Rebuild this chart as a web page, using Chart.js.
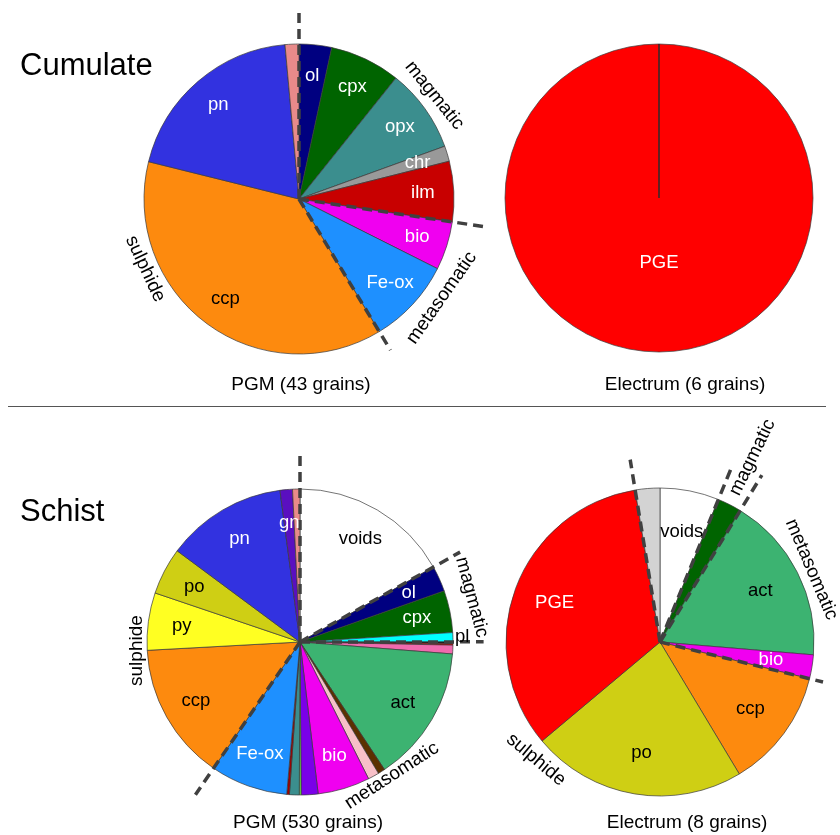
<!DOCTYPE html>
<html lang="en">
<head>
<meta charset="UTF-8">
<title>PGM and Electrum hosts</title>
<script src="https://cdn.jsdelivr.net/npm/chart.js"></script>
<style>
  body { margin: 0; width: 840px; height: 835px; position: relative; overflow: hidden; background: #fff;
         font-family: "Liberation Sans", Arial, sans-serif; }
  .box { position: absolute; width: 480px; height: 480px; }
  .txt { position: absolute; white-space: nowrap; line-height: 1; color: #000; }
  .cap { font-size: 19px; transform: translateX(-50%); }
  .title { font-size: 31px; }
  #rule { position: absolute; left: 8px; top: 406px; width: 818px; border-top: 1px solid #555; }
</style>
</head>
<body>
<div class="box" style="left:59px;top:-41px"><canvas id="cumPgm" width="480" height="480"></canvas></div>
<div class="box" style="left:419px;top:-42px"><canvas id="cumEl" width="480" height="480"></canvas></div>
<div class="box" style="left:60px;top:402px"><canvas id="schPgm" width="480" height="480"></canvas></div>
<div class="box" style="left:420px;top:402px"><canvas id="schEl" width="480" height="480"></canvas></div>

<div class="txt title" style="left:20px;top:49px">Cumulate</div>
<div class="txt title" style="left:20px;top:495px">Schist</div>
<div id="rule"></div>
<div class="txt cap" style="left:301px;top:374px">PGM (43 grains)</div>
<div class="txt cap" style="left:685px;top:374px">Electrum (6 grains)</div>
<div class="txt cap" style="left:308px;top:812px">PGM (530 grains)</div>
<div class="txt cap" style="left:687px;top:812px">Electrum (8 grains)</div>

<script>
    // host mineral shares (% of grain area), clockwise from 12 o'clock
    const cumPgmCats   = ['ol', 'cpx', 'opx', 'chr', 'ilm', 'bio', 'Fe-ox', 'ccp', 'pn', ''];
    const cumPgmValues = [3.39, 7.36, 8.72, 1.61, 6.28, 5.06, 8.92, 37.53, 19.69, 1.44];

    const cumElCats   = ['PGE'];
    const cumElValues = [100];

    const schPgmCats   = ['voids', 'ol', 'cpx', 'pl', '', '', '', 'act', '', '', 'bio', '', '', '', '',
                          'Fe-ox', 'ccp', 'py', 'po', 'pn', 'gn', ''];
    const schPgmValues = [16.86, 2.72, 4.44, 0.97, 0.17, 0.17, 0.92, 14.44, 0.75, 1.17, 5.50, 1.78, 0.19, 1.03, 0.28,
                          8.17, 14.58, 6.06, 4.97, 12.75, 1.31, 0.78];

    const schElCats   = ['voids', '', 'act', 'bio', 'ccp', 'po', 'PGE', ''];
    const schElValues = [6.19, 2.53, 17.61, 2.50, 12.56, 22.50, 33.53, 2.58];

    // colours
    const cumPgmColors = ['#000080', '#006400', '#3b8e8e', '#999999', '#c80000', '#f000f0', '#1e90ff', '#fd8a0e', '#3232e0', '#e88a8a'];
    const cumPgmText   = ['#fff', '#fff', '#fff', '#fff', '#fff', '#fff', '#fff', '#000', '#fff', '#fff'];
    const cumElColors  = ['#ff0000'];
    const cumElText    = ['#fff'];
    const schPgmColors = ['#ffffff', '#000080', '#006400', '#00ffff', '#111111', '#dd0000', '#f06aae', '#3cb371', '#5c3000',
                          '#f8c0c8', '#f000f0', '#7a00e8', '#70ff40', '#3b8e8e', '#a00000', '#1e90ff', '#fd8a0e', '#ffff22',
                          '#cfcf14', '#3232e0', '#5a0fc0', '#e88a8a'];
    const schPgmText   = ['#000', '#fff', '#fff', '#000', '#000', '#000', '#000', '#000', '#000', '#000', '#fff', '#000',
                          '#000', '#000', '#000', '#fff', '#000', '#000', '#000', '#fff', '#fff', '#000'];
    const schElColors  = ['#ffffff', '#006400', '#3cb371', '#f000f0', '#fd8a0e', '#cfcf14', '#ff0000', '#d3d3d3'];
    const schElText    = ['#000', '#fff', '#000', '#fff', '#000', '#000', '#fff', '#000'];

    // where the dashed group dividers, slice labels and group names go
    const layouts = {
        cumPgm: {
            labelDist: 0.8,
            dividers: [{ after: -1, len: 1.22 }, { after: 4, len: 1.23 }, { after: 6, len: 1.14 }],
            groups: [
                { text: 'magmatic', angle: 52.6, dist: 1.1, rot: 51 },
                { text: 'metasomatic', angle: 124.7, dist: 1.12, rot: -55 },
                { text: 'sulphide', angle: 245.6, dist: 1.09, rot: 65 }
            ]
        },
        cumEl: { labelDist: 0.42, dividers: [], groups: [] },
        schPgm: {
            labelDist: 0.78,
            outside: { pl: 1.06 },
            dividers: [{ after: -1, len: 1.22 }, { after: 0, len: 1.2 }, { after: 3, len: 1.2 }, { after: 15, len: 1.21 }],
            groups: [
                { text: 'magmatic', angle: 75.4, dist: 1.16, rot: 75 },
                { text: 'metasomatic', angle: 145.5, dist: 1.06, rot: -33 },
                { text: 'sulphide', angle: 267, dist: 1.07, rot: -90 }
            ]
        },
        schEl: {
            labelDist: 0.73,
            dividers: [{ after: 6, len: 1.2 }, { after: 0, len: 1.24 }, { after: 1, len: 1.27 }, { after: 3, len: 1.09 }],
            groups: [
                { text: 'magmatic', angle: 26.6, dist: 1.34, rot: -64 },
                { text: 'metasomatic', angle: 64.4, dist: 1.09, rot: 67 },
                { text: 'sulphide', angle: 226.5, dist: 1.11, rot: 40 }
            ]
        }
    };

    const deg = Math.PI / 180;
    const font = '"Liberation Sans", Arial, sans-serif';

    const piePainter = {
        id: 'piePainter',
        afterDatasetsDraw(chart) {
            const lay = layouts[chart.canvas.id];
            const arcs = chart.getDatasetMeta(0).data;
            const x = arcs[0].x, y = arcs[0].y, r = arcs[0].outerRadius;
            const ctx = chart.ctx;
            ctx.save();

            // single full slice: show its seam
            if (arcs.length === 1) {
                ctx.strokeStyle = '#222';
                ctx.lineWidth = 0.8;
                ctx.beginPath();
                ctx.moveTo(x, y);
                ctx.lineTo(x + r * Math.cos(arcs[0].startAngle), y + r * Math.sin(arcs[0].startAngle));
                ctx.stroke();
            }

            ctx.strokeStyle = '#404040';
            ctx.lineWidth = 3.5;
            ctx.setLineDash([10, 6]);
            lay.dividers.forEach(d => {
                const a = d.after < 0 ? arcs[0].startAngle : arcs[d.after].endAngle;
                ctx.beginPath();
                ctx.moveTo(x, y);
                ctx.lineTo(x + d.len * r * Math.cos(a), y + d.len * r * Math.sin(a));
                ctx.stroke();
            });
            ctx.setLineDash([]);

            ctx.textAlign = 'center';
            ctx.textBaseline = 'middle';
            ctx.font = '18.5px ' + font;
            const cats = chart.data.labels;
            const txtCol = chart.data.datasets[0].textColor;
            cats.forEach((t, i) => {
                if (!t) return;
                const m = (arcs[i].startAngle + arcs[i].endAngle) / 2;
                const dist = (lay.outside && lay.outside[t]) || lay.labelDist;
                ctx.fillStyle = txtCol[i];
                ctx.fillText(t, x + dist * r * Math.cos(m), y + dist * r * Math.sin(m));
            });

            ctx.font = '19px ' + font;
            ctx.fillStyle = '#000';
            lay.groups.forEach(g => {
                const a = (g.angle - 90) * deg;
                ctx.save();
                ctx.translate(x + g.dist * r * Math.cos(a), y + g.dist * r * Math.sin(a));
                ctx.rotate(g.rot * deg);
                ctx.fillText(g.text, 0, 0);
                ctx.restore();
            });
            ctx.restore();
        }
    };

    function makePie(id, cats, values, colors, textColor, radius) {
        return new Chart(document.getElementById(id), {
            type: 'pie',
            data: {
                labels: cats,
                datasets: [{
                    data: values,
                    backgroundColor: colors,
                    textColor: textColor,
                    borderColor: '#3a3a3a',
                    borderWidth: 0.7,
                    radius: radius
                }]
            },
            options: {
                responsive: false,
                animation: false,
                events: [],
                plugins: { legend: { display: false }, tooltip: { enabled: false } }
            },
            plugins: [piePainter]
        });
    }

    makePie('cumPgm', cumPgmCats, cumPgmValues, cumPgmColors, cumPgmText, 155);
    makePie('cumEl', cumElCats, cumElValues, cumElColors, cumElText, 154);
    makePie('schPgm', schPgmCats, schPgmValues, schPgmColors, schPgmText, 153);
    makePie('schEl', schElCats, schElValues, schElColors, schElText, 154);
</script>
</body>
</html>
